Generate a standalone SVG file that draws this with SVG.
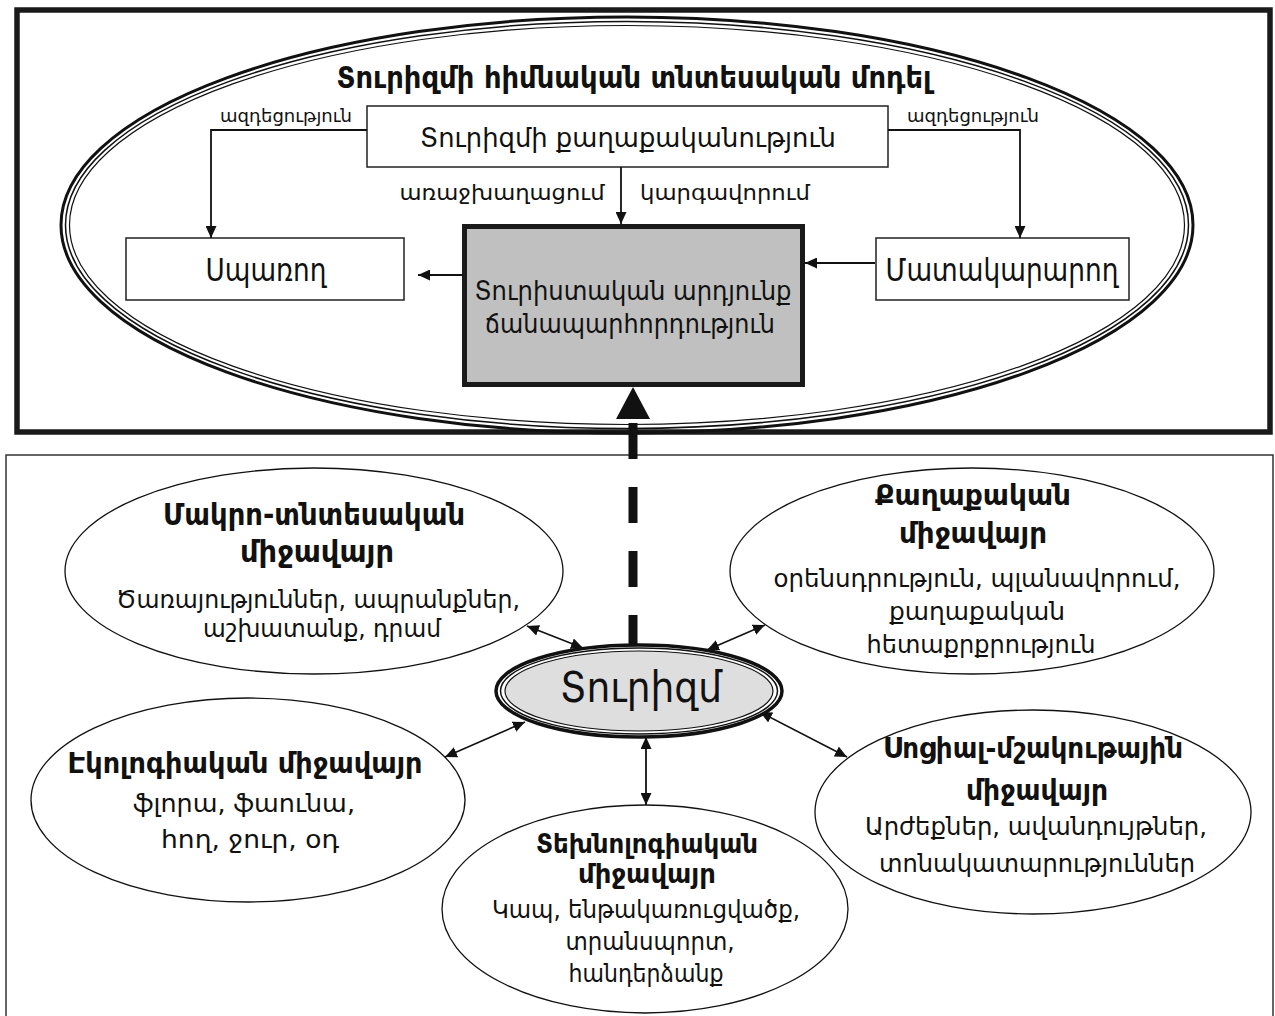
<svg xmlns="http://www.w3.org/2000/svg" width="1275" height="1016" viewBox="0 0 1275 1016">
<style>
text{font-family:"DejaVu Sans","Noto Sans",sans-serif;fill:#111;text-anchor:middle}
.b{font-weight:bold}
.box{fill:#fff;stroke:#222;stroke-width:1.5}
.ln{fill:none;stroke:#111;stroke-width:1.8}
.ln2{fill:none;stroke:#111;stroke-width:1.6}
.sat{fill:#fff;stroke:#111;stroke-width:1.3}
</style>
<defs>
<marker id="ah" viewBox="0 0 12 11" refX="12" refY="5.5" markerWidth="12" markerHeight="11" markerUnits="userSpaceOnUse" orient="auto-start-reverse">
<path d="M0,0 L12,5.5 L0,11 z" fill="#111"/>
</marker>
</defs>
<rect width="1275" height="1016" fill="#fff"/>
<g id="top-frame">
<rect x="17" y="10" width="1253" height="422" fill="#fff" stroke="#1a1a1a" stroke-width="5.5"/>
</g>
<g id="bottom-frame">
<rect x="6" y="455" width="1267" height="580" fill="#fff" stroke="#333" stroke-width="1.5"/>
</g>
<g id="model-ellipse">
<ellipse cx="627" cy="225" rx="566" ry="208" fill="none" stroke="#111" stroke-width="3"/>
<ellipse cx="627" cy="225" rx="561.5" ry="203.5" fill="none" stroke="#111" stroke-width="1.5"/>
<ellipse cx="627" cy="225" rx="557.5" ry="199.5" fill="none" stroke="#111" stroke-width="1.2"/>
<text class="b" x="634" y="88" font-size="31" textLength="595" lengthAdjust="spacingAndGlyphs">Տուրիզմի հիմնական տնտեսական մոդել</text>
</g>
<g id="policy">
<rect class="box" x="367" y="106" width="521" height="61"/>
<text x="628" y="147" font-size="27" textLength="416" lengthAdjust="spacingAndGlyphs">Տուրիզմի քաղաքականություն</text>
</g>
<g id="consumer">
<rect class="box" x="126" y="238" width="278" height="62"/>
<text x="266" y="281" font-size="32" textLength="121" lengthAdjust="spacingAndGlyphs">Սպառող</text>
</g>
<g id="supplier">
<rect class="box" x="876" y="238" width="253" height="62"/>
<text x="1002" y="281" font-size="32" textLength="233" lengthAdjust="spacingAndGlyphs">Մատակարարող</text>
</g>
<g id="product">
<rect x="464.5" y="226.5" width="338" height="158" fill="#c0c0c0" stroke="#1a1a1a" stroke-width="5"/>
<text x="633" y="300" font-size="27" textLength="317" lengthAdjust="spacingAndGlyphs">Տուրիստական արդյունք</text>
<text x="630" y="333" font-size="27" textLength="290" lengthAdjust="spacingAndGlyphs">ճանապարհորդություն</text>
</g>
<g id="env-macro">
<ellipse class="sat" cx="314" cy="571" rx="249" ry="103"/>
<text class="b" x="314" y="525" font-size="30" textLength="302" lengthAdjust="spacingAndGlyphs">Մակրո-տնտեսական</text>
<text class="b" x="317" y="562" font-size="30" textLength="154" lengthAdjust="spacingAndGlyphs">միջավայր</text>
<text x="318" y="608" font-size="25" textLength="404" lengthAdjust="spacingAndGlyphs">Ծառայություններ, ապրանքներ,</text>
<text x="322" y="637" font-size="25" textLength="238" lengthAdjust="spacingAndGlyphs">աշխատանք, դրամ</text>
</g>
<g id="env-political">
<ellipse class="sat" cx="972" cy="571" rx="242" ry="103"/>
<text class="b" x="973" y="505" font-size="29" textLength="196" lengthAdjust="spacingAndGlyphs">Քաղաքական</text>
<text class="b" x="973" y="543" font-size="29" textLength="148" lengthAdjust="spacingAndGlyphs">միջավայր</text>
<text x="977" y="587" font-size="24" textLength="407" lengthAdjust="spacingAndGlyphs">օրենսդրություն, պլանավորում,</text>
<text x="977" y="620" font-size="24" textLength="176" lengthAdjust="spacingAndGlyphs">քաղաքական</text>
<text x="981" y="653" font-size="24" textLength="229" lengthAdjust="spacingAndGlyphs">հետաքրքրություն</text>
</g>
<g id="env-ecological">
<ellipse class="sat" cx="248" cy="800" rx="217" ry="102"/>
<text class="b" x="245" y="773" font-size="29" textLength="355" lengthAdjust="spacingAndGlyphs">Էկոլոգիական միջավայր</text>
<text x="244" y="812" font-size="25" textLength="222" lengthAdjust="spacingAndGlyphs">ֆլորա, ֆաունա,</text>
<text x="250" y="848" font-size="25" textLength="178" lengthAdjust="spacingAndGlyphs">հող, ջուր, օդ</text>
</g>
<g id="env-technological">
<ellipse class="sat" cx="645" cy="909" rx="203" ry="104"/>
<text class="b" x="647" y="853" font-size="27" textLength="222" lengthAdjust="spacingAndGlyphs">Տեխնոլոգիական</text>
<text class="b" x="647" y="883" font-size="27" textLength="138" lengthAdjust="spacingAndGlyphs">միջավայր</text>
<text x="646" y="918" font-size="24" textLength="308" lengthAdjust="spacingAndGlyphs">Կապ, ենթակառուցվածք,</text>
<text x="650" y="950" font-size="24" textLength="169" lengthAdjust="spacingAndGlyphs">տրանսպորտ,</text>
<text x="646" y="982" font-size="24" textLength="155" lengthAdjust="spacingAndGlyphs">հանդերձանք</text>
</g>
<g id="env-social">
<ellipse class="sat" cx="1033" cy="812" rx="218" ry="102"/>
<text class="b" x="1033" y="758" font-size="29" textLength="300" lengthAdjust="spacingAndGlyphs">Սոցիալ-մշակութային</text>
<text class="b" x="1037" y="800" font-size="29" textLength="142" lengthAdjust="spacingAndGlyphs">միջավայր</text>
<text x="1036" y="835" font-size="25" textLength="342" lengthAdjust="spacingAndGlyphs">Արժեքներ, ավանդույթներ,</text>
<text x="1037" y="872" font-size="25" textLength="316" lengthAdjust="spacingAndGlyphs">տոնակատարություններ</text>
</g>
<g id="connectors">
<path class="ln" d="M367,130 H211 V238" marker-end="url(#ah)"/>
<path class="ln" d="M888,130 H1020 V238" marker-end="url(#ah)"/>
<path class="ln" d="M621,167 V224" marker-end="url(#ah)"/>
<path class="ln" d="M875,263 H805" marker-end="url(#ah)"/>
<path class="ln" d="M462,275 H418" marker-end="url(#ah)"/>
<text x="286" y="122" font-size="18" textLength="132" lengthAdjust="spacingAndGlyphs">ազդեցություն</text>
<text x="973" y="122" font-size="18" textLength="132" lengthAdjust="spacingAndGlyphs">ազդեցություն</text>
<text x="502" y="200" font-size="21" textLength="205" lengthAdjust="spacingAndGlyphs">առաջխաղացում</text>
<text x="725" y="200" font-size="21" textLength="170" lengthAdjust="spacingAndGlyphs">կարգավորում</text>
<line x1="633" y1="423" x2="633" y2="647" stroke="#111" stroke-width="9" stroke-dasharray="36 28"/>
<path d="M633,387 L616,419 L650,419 z" fill="#111"/>
<path class="ln2" d="M527,626 L583,648" marker-start="url(#ah)" marker-end="url(#ah)"/>
<path class="ln2" d="M707,650 L765,625" marker-start="url(#ah)" marker-end="url(#ah)"/>
<path class="ln2" d="M525,722 L445,757" marker-start="url(#ah)" marker-end="url(#ah)"/>
<path class="ln2" d="M760,712 L847,757" marker-start="url(#ah)" marker-end="url(#ah)"/>
<path class="ln" d="M646,737 V805" stroke-width="2.2" marker-start="url(#ah)" marker-end="url(#ah)"/>
</g>
<g id="tourism">
<ellipse cx="639" cy="691" rx="143" ry="46" fill="#fff" stroke="#111" stroke-width="3.5"/>
<ellipse cx="639" cy="691" rx="138.5" ry="43" fill="none" stroke="#111" stroke-width="1.5"/>
<ellipse cx="639" cy="691" rx="134" ry="40" fill="#dedede" stroke="#111" stroke-width="1.2"/>
<text x="641" y="702" font-size="42" textLength="162" lengthAdjust="spacingAndGlyphs">Տուրիզմ</text>
</g>
</svg>
